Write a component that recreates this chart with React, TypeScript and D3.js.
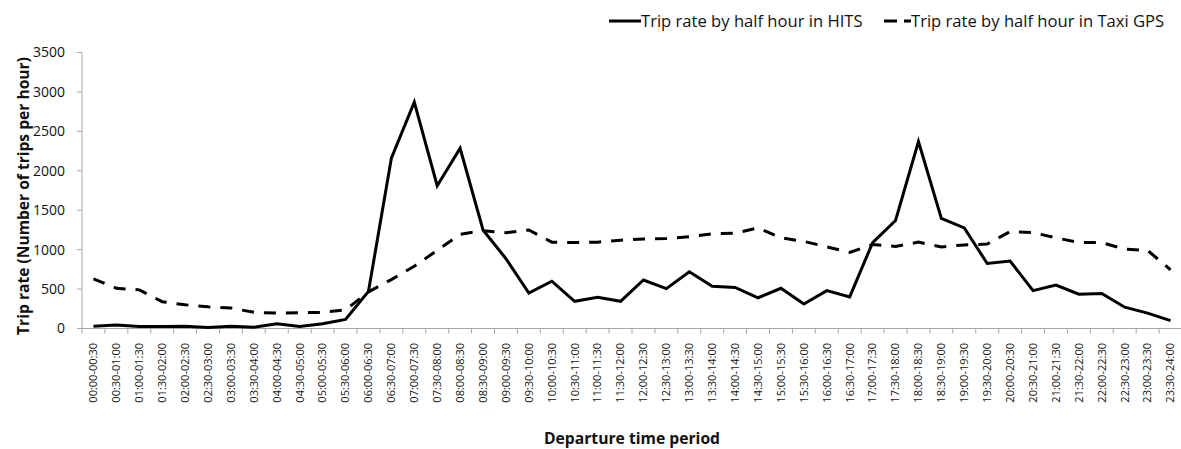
import React from "react";
import * as d3 from "d3";

const categories = [
  "00:00-00:30","00:30-01:00","01:00-01:30","01:30-02:00","02:00-02:30","02:30-03:00",
  "03:00-03:30","03:30-04:00","04:00-04:30","04:30-05:00","05:00-05:30","05:30-06:00",
  "06:00-06:30","06:30-07:00","07:00-07:30","07:30-08:00","08:00-08:30","08:30-09:00",
  "09:00-09:30","09:30-10:00","10:00-10:30","10:30-11:00","11:00-11:30","11:30-12:00",
  "12:00-12:30","12:30-13:00","13:00-13:30","13:30-14:00","14:00-14:30","14:30-15:00",
  "15:00-15:30","15:30-16:00","16:00-16:30","16:30-17:00","17:00-17:30","17:30-18:00",
  "18:00-18:30","18:30-19:00","19:00-19:30","19:30-20:00","20:00-20:30","20:30-21:00",
  "21:00-21:30","21:30-22:00","22:00-22:30","22:30-23:00","23:00-23:30","23:30-24:00",
];

const hitsValues = [
  30, 45, 25, 25, 30, 13, 30, 15, 60, 25, 60, 115,
  470, 2160, 2870, 1810, 2285, 1250, 885, 450, 600, 345, 395, 345,
  615, 505, 720, 535, 520, 390, 510, 310, 480, 400, 1090, 1370,
  2370, 1395, 1275, 825, 855, 480, 550, 435, 445, 270, 195, 100,
];

const taxiValues = [
  630, 510, 490, 340, 300, 275, 260, 205, 195, 200, 205, 235,
  465, 620, 790, 990, 1195, 1240, 1215, 1250, 1095, 1090, 1095, 1120,
  1135, 1140, 1165, 1200, 1210, 1275, 1150, 1105, 1035, 965, 1065, 1040,
  1095, 1035, 1060, 1070, 1230, 1215, 1150, 1090, 1090, 1005, 990, 745,
];

const yTicks = [0, 500, 1000, 1500, 2000, 2500, 3000, 3500];

const seriesNames = ["Trip rate by half hour in HITS", "Trip rate by half hour in Taxi GPS"];
const yTitle = "Trip rate (Number of trips per hour)";
const xTitle = "Departure time period";

const W = 1181;
const H = 449;
const FONT = "'Open Sans', 'Liberation Sans', sans-serif";
const AXIS = "#a6a6a6";
const TEXT = "#111";

export default function App() {
  const x = d3.scaleBand<string>().domain(categories).range([82, 1182]).padding(0);
  const y = d3.scaleLinear().domain([0, 3500]).range([328.5, 52.5]);
  const cx = (i: number) => (x(categories[i]) as number) + x.bandwidth() / 2;

  const line = d3
    .line<number>()
    .x((_, i) => cx(i))
    .y((d) => y(d));

  const boundaries = d3.range(categories.length + 1).map((i) => 82 + i * x.bandwidth());

  return (
    <svg
      width={W}
      height={H}
      style={{ position: "absolute", left: 0, top: 0, background: "#fff" }}
      fontFamily={FONT}
    >
      {/* y axis */}
      <line x1={82} x2={82} y1={y(3500)} y2={y(0)} stroke={AXIS} strokeWidth={1} />
      {yTicks.map((t) => (
        <g key={t}>
          <line x1={77} x2={82} y1={y(t)} y2={y(t)} stroke={AXIS} />
          <text x={65} y={y(t)} dy="0.35em" textAnchor="end" fontSize={14} fill={TEXT}>
            {t}
          </text>
        </g>
      ))}
      {/* x axis */}
      <line x1={82} x2={1182} y1={y(0)} y2={y(0)} stroke={AXIS} strokeWidth={1} />
      {boundaries.map((b, i) => (
        <line key={i} x1={b} x2={b} y1={y(0)} y2={y(0) + 5} stroke={AXIS} />
      ))}
      {categories.map((c, i) => (
        <text
          key={c}
          transform={`translate(${cx(i)},${343}) rotate(-90)`}
          textAnchor="end"
          dy="0.35em"
          fontSize={11}
          fill={TEXT}
        >
          {c}
        </text>
      ))}

      {/* series */}
      <path d={line(taxiValues) || ""} fill="none" stroke="#000" strokeWidth={3} strokeDasharray="12,10" />
      <path d={line(hitsValues) || ""} fill="none" stroke="#000" strokeWidth={3} strokeLinejoin="miter" />

      {/* titles */}
      <text
        transform={`translate(29,196) rotate(-90)`}
        textAnchor="middle"
        fontSize={15.6}
        fontWeight="bold"
        fill={TEXT}
      >
        {yTitle}
      </text>
      <text x={632} y={444} textAnchor="middle" fontSize={15.7} fontWeight="bold" fill={TEXT}>
        {xTitle}
      </text>

      {/* legend */}
      <line x1={609} x2={641} y1={21} y2={21} stroke="#000" strokeWidth={3} />
      <text x={641} y={21} dy="0.35em" fontSize={16.6} fill={TEXT}>
        {seriesNames[0]}
      </text>
      <line x1={884} x2={911} y1={21} y2={21} stroke="#000" strokeWidth={3} strokeDasharray="13,7" />
      <text x={911} y={21} dy="0.35em" fontSize={16.6} fill={TEXT}>
        {seriesNames[1]}
      </text>
    </svg>
  );
}
